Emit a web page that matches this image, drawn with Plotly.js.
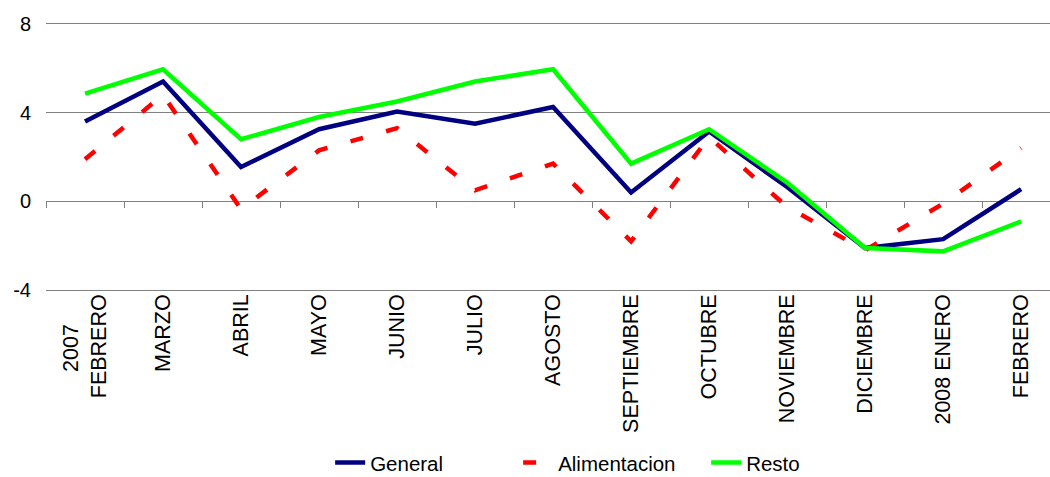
<!DOCTYPE html>
<html>
<head>
<meta charset="utf-8">
<script src="https://cdn.plot.ly/plotly-3.0.1.min.js"></script>
<style>html,body{margin:0;padding:0;background:#fff;}#chart{width:1050px;height:477px;}</style>
</head>
<body>
<div id="chart"></div>
<script>
var categories = ["2007\u00A0\u00A0\u00A0\u00A0\u00A0<br>FEBRERO","MARZO","ABRIL","MAYO","JUNIO","JULIO","AGOSTO","SEPTIEMBRE","OCTUBRE","NOVIEMBRE","DICIEMBRE","2008 ENERO","FEBRERO"];
var general = [3.6, 5.4, 1.55, 3.25, 4.05, 3.5, 4.25, 0.4, 3.15, 0.65, -2.1, -1.7, 0.55];
var alimentacion = [1.9, 4.8, -0.35, 2.3, 3.3, 0.5, 1.7, -1.8, 2.9, -0.25, -2.2, -0.1, 2.4];
var resto = [4.85, 5.95, 2.8, 3.8, 4.5, 5.4, 5.95, 1.7, 3.25, 0.85, -2.1, -2.25, -0.9];
var yTicks = [-4, 0, 4, 8];

var idx = categories.map(function(_, i){ return i; });
var bounds = categories.map(function(_, i){ return i - 0.5; }).concat([categories.length - 0.5]);
var font = "Liberation Sans, Arial, sans-serif";

var traces = [
  {x: idx, y: general, name: "General", type: "scatter", mode: "lines",
   line: {color: "#000080", width: 4.5}},
  {x: idx, y: alimentacion, name: "Alimentacion", type: "scatter", mode: "lines",
   line: {color: "#FF0000", width: 4.5, dash: "13px,24px"}},
  {x: idx, y: resto, name: "Resto", type: "scatter", mode: "lines",
   line: {color: "#00FF00", width: 4.5}},
  {x: [], y: [], xaxis: "x2", yaxis: "y", type: "scatter", mode: "lines",
   showlegend: false, hoverinfo: "skip"}
];

var xr = [-0.5, 12.37];
var yr = [-4.08, 8.08];
var layout = {
  width: 1050, height: 477,
  margin: {l: 46, r: 0, t: 21.7, b: 185.2},
  paper_bgcolor: "#ffffff", plot_bgcolor: "#ffffff",
  font: {family: font, size: 20, color: "#000000"},
  showlegend: true,
  legend: {orientation: "h", xref: "paper", x: 0.283, xanchor: "left",
           yref: "container", y: 0.03, yanchor: "middle",
           entrywidth: 143, entrywidthmode: "pixels",
           font: {family: font, size: 20.5, color: "#000"}, itemwidth: 30, tracegroupgap: 0},
  xaxis: {range: xr, tickmode: "array", tickvals: idx, ticktext: categories,
          tickangle: -90, showgrid: false, zeroline: false, showline: false, ticks: "",
          ticklabelstandoff: -3,
          tickfont: {family: font, size: 21.5, color: "#000"}, fixedrange: true, automargin: false},
  xaxis2: {range: xr, overlaying: "x", anchor: "free", position: 4.08 / 12.16, side: "bottom",
           tickmode: "array", tickvals: bounds, ticks: "outside", ticklen: 6, tickwidth: 1,
           tickcolor: "#808080", showticklabels: false, showgrid: false, zeroline: false,
           showline: false, automargin: false},
  yaxis: {range: yr, tickmode: "array", tickvals: yTicks, ticktext: yTicks.map(String),
          showgrid: true, gridcolor: "#808080", gridwidth: 1,
          zeroline: true, zerolinecolor: "#808080", zerolinewidth: 1,
          showline: false, ticks: "", ticklabelstandoff: 14,
          tickfont: {family: font, size: 20, color: "#000"}, automargin: false}
};

Plotly.newPlot("chart", traces, layout, {staticPlot: true, displayModeBar: false});
</script>
</body>
</html>
